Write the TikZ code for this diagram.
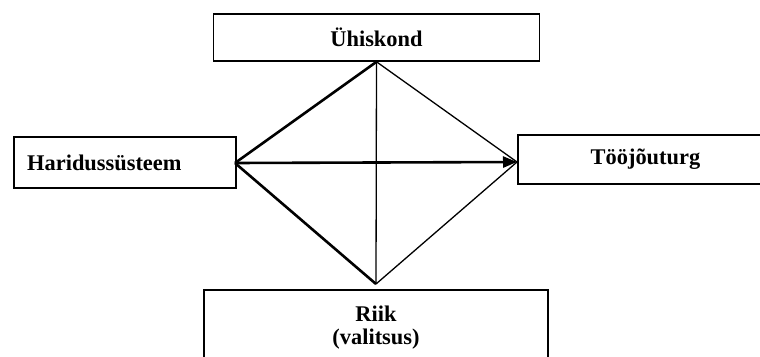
\documentclass[tikz,border=0pt]{standalone}
\usepackage{fontspec}
\setmainfont{Liberation Serif}
\usetikzlibrary{arrows.meta}
\begin{document}
\begin{tikzpicture}[x=1pt,y=-1pt,
  boxst/.style={draw,line width=1.6pt,inner sep=0pt,font=\fontsize{22.4}{26}\selectfont\bfseries},
  txt/.style={font=\fontsize{22.4}{26}\selectfont\bfseries,inner sep=0pt},
  thinl/.style={line width=1.3pt},
  boldl/.style={line width=2.6pt}]
\clip (0,0) rectangle (760,356);
\fill[white] (0,0) rectangle (760,356);
\node[boxst,minimum width=326pt,minimum height=47pt] (top) at (376.5,37.5) {Ühiskond};
\node[boxst,minimum width=222pt,minimum height=51pt,anchor=west] (left) at (13,162.5) {};
\node[txt,anchor=west] (lefttxt) at (27,162.5) {Haridussüsteem};
\node[boxst,minimum width=243pt,minimum height=49pt,anchor=west] (right) at (517,159.5) {};
\node[txt] (righttxt) at (645.5,159.5) {Tööjõuturg};
\node[boxst,minimum width=344pt,minimum height=100pt,anchor=north] (bot) at (376,289) {};
\node[txt] (riik) at (376,314) {Riik};
\node[txt] (valit) at (376,339) {(valitsus)};
\coordinate (T) at (top.south);
\coordinate (L) at (235,163);
\coordinate (R) at (517,162);
\coordinate (B) at (376,284);
\draw[boldl] (L) -- (T);
\draw[boldl] (L) -- (B);
\draw[thinl] (T) -- (R);
\draw[thinl] (B) -- (R);
\draw[thinl] (T) -- (B);
\draw[boldl,-{Triangle[length=14pt,width=11pt]}] (L) -- (R);
\end{tikzpicture}
\end{document}
